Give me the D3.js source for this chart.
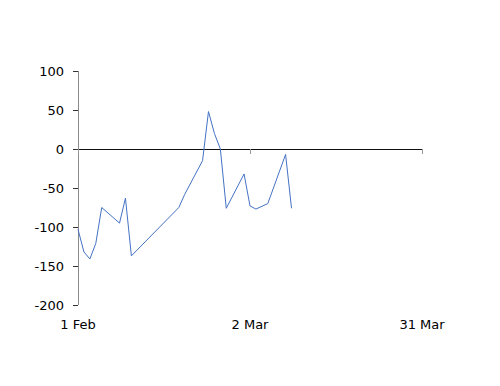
<!DOCTYPE html>
<html>
<head>
<meta charset="utf-8">
<script src="https://cdn.jsdelivr.net/npm/d3@7"></script>
<style>
  body { margin: 0; background: #fff; }
  svg { display: block; }
  text { font-family: "DejaVu Sans", Verdana, sans-serif; font-size: 13px; fill: #000; }
</style>
</head>
<body>
<svg id="chart" width="500" height="386"></svg>
<script>
// series
var dates = ["2023-02-01","2023-02-02","2023-02-03","2023-02-04","2023-02-05","2023-02-08","2023-02-09","2023-02-10",
             "2023-02-18","2023-02-19","2023-02-22","2023-02-23","2023-02-24","2023-02-25","2023-02-26",
             "2023-03-01","2023-03-02","2023-03-03","2023-03-05","2023-03-08","2023-03-09"];
var values = [-103,-132,-141,-121,-75,-95,-63,-137,
              -75,-58,-15,48,20,0,-76,
              -32,-73,-77,-70,-7,-76];
var xTickDates = ["2023-02-01","2023-03-02","2023-03-31"];
var xTickLabels = ["1 Feb","2 Mar","31 Mar"];
var yTicks = [100,50,0,-50,-100,-150,-200];

var parse = d3.timeParse("%Y-%m-%d");
var data = dates.map(function(d,i){ return {date: parse(d), value: values[i]}; });

var svg = d3.select("#chart");
var margin = {left: 78, right: 78, top: 71, bottom: 81};
var W = 500, H = 386;

var x = d3.scaleTime()
    .domain([parse(xTickDates[0]), parse(xTickDates[2])])
    .range([margin.left, W - margin.right]);
var y = d3.scaleLinear()
    .domain([-200, 100])
    .range([H - margin.bottom, margin.top]);

// y axis (plain hyphen for negatives)
var yAxis = d3.axisLeft(y).tickValues(yTicks).tickSize(5).tickPadding(9)
    .tickFormat(function(d){ return String(d); });
var gy = svg.append("g").attr("transform", "translate(" + margin.left + ",0)").call(yAxis);
gy.select(".domain").attr("stroke", "#8a8a8a").attr("d", "M0.5," + y(100) + "V" + y(-200));
gy.selectAll(".tick line").attr("stroke", "#333");
gy.selectAll("text").style("font-size", "13px").attr("fill", "#000");

// x axis along zero
var xAxis = d3.axisBottom(x)
    .tickValues(xTickDates.map(parse))
    .tickSize(5)
    .tickFormat("");
var gx = svg.append("g").attr("transform", "translate(0," + y(0) + ")").call(xAxis);
gx.select(".domain").attr("stroke", "#111").attr("d", "M" + x.range()[0] + ",0.5H" + (x.range()[1] + 1));
gx.selectAll(".tick line").attr("stroke", "#999");

// x labels at bottom
svg.append("g").selectAll("text")
    .data(xTickDates)
    .enter()
    .append("text")
    .attr("x", function(d){ return x(parse(d)); })
    .attr("y", y(-200) + 24)
    .attr("text-anchor", "middle")
    .text(function(d,i){ return xTickLabels[i]; });

// the series
var line = d3.line()
    .x(function(d){ return x(d.date); })
    .y(function(d){ return y(d.value); });

svg.append("path")
    .datum(data)
    .attr("fill", "none")
    .attr("stroke", "#4472c4")
    .attr("stroke-width", 1)
    .attr("d", line);
</script>
</body>
</html>
